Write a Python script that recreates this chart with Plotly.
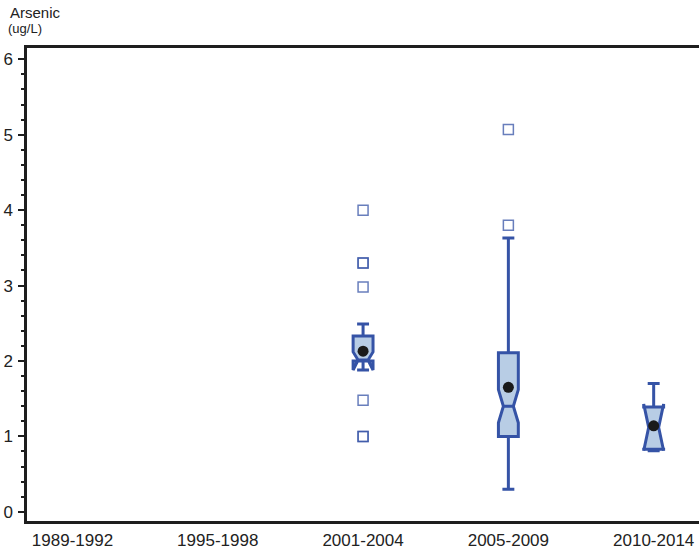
import plotly.graph_objects as go

categories = ["1989-1992", "1995-1998", "2001-2004", "2005-2009", "2010-2014"]

# Box statistics per period with data (periods with boxes)
box_periods = ["2001-2004", "2005-2009", "2010-2014"]
q1_vals = [2.00, 1.00, 0.83]
median_vals = [2.00, 1.40, 1.12]
q3_vals = [2.33, 2.11, 1.39]
lower_fence_vals = [1.92, 0.30, 0.83]
upper_fence_vals = [2.49, 3.63, 1.70]
notch_span_vals = [0.12, 0.22, 0.31]
mean_vals = [2.13, 1.65, 1.14]

# Outliers
outlier_periods = ["2001-2004", "2001-2004", "2001-2004", "2001-2004", "2001-2004",
                   "2001-2004", "2001-2004", "2005-2009", "2005-2009"]
outlier_vals = [4.00, 3.30, 3.30, 2.98, 1.48, 1.00, 1.00, 5.07, 3.80]

y_tick_vals = [0, 1, 2, 3, 4, 5, 6]
y_tick_text = ["0", "1", "2", "3", "4", "5", "6"]

LINE = "#3553a6"
FILL = "#b8cde5"
FONT = "Liberation Sans, Arial, sans-serif"

fig = go.Figure()

for i, p in enumerate(box_periods):
    fig.add_trace(go.Box(
        x=[p],
        q1=[q1_vals[i]], median=[median_vals[i]], q3=[q3_vals[i]],
        lowerfence=[lower_fence_vals[i]], upperfence=[upper_fence_vals[i]],
        notchspan=[notch_span_vals[i]],
        notched=True, notchwidth=0.25,
        width=0.137, whiskerwidth=0.6,
        boxpoints=False,
        fillcolor=FILL,
        line=dict(color=LINE, width=3),
        showlegend=False, hoverinfo="skip",
    ))

fig.add_trace(go.Scatter(
    x=outlier_periods, y=outlier_vals, mode="markers",
    marker=dict(symbol="square-open", size=10, color="rgba(53,83,166,0.75)",
                line=dict(width=1.5)),
    showlegend=False, hoverinfo="skip",
))

fig.add_trace(go.Scatter(
    x=box_periods, y=mean_vals, mode="markers",
    marker=dict(symbol="circle", size=11, color="#1a1a1a"),
    showlegend=False, hoverinfo="skip",
))

fig.update_layout(
    width=699, height=553,
    margin=dict(l=27, r=0, t=48, b=31.5, autoexpand=False),
    paper_bgcolor="white", plot_bgcolor="white",
    font=dict(family=FONT, color="#222222", size=16),
    xaxis=dict(
        type="category", categoryorder="array", categoryarray=categories,
        range=[-0.313, 4.312], automargin=False,
        showgrid=False, zeroline=False,
        showline=True, linecolor="#1e1e1e", linewidth=2.5, mirror=True,
        ticks="", ticklabelstandoff=2,
        tickfont=dict(size=17, family=FONT, color="#222222"),
    ),
    yaxis=dict(
        range=[-0.122, 6.15], automargin=False,
        tickvals=y_tick_vals, ticktext=y_tick_text,
        showgrid=False, zeroline=False,
        showline=True, linecolor="#1e1e1e", linewidth=2.5,
        ticks="outside", ticklen=6, tickwidth=2, tickcolor="#1e1e1e",
        minor=dict(dtick=0.2, tick0=0, ticks="outside", ticklen=3, tickwidth=2,
                   tickcolor="#1e1e1e", showgrid=False),
        tickfont=dict(size=17, family=FONT, color="#222222"),
        ticklabelstandoff=2,
    ),
    annotations=[
        dict(text="Arsenic", xref="paper", yref="paper", x=-0.0283, y=1.076,
             xanchor="left", yanchor="middle", showarrow=False,
             font=dict(size=15, family=FONT, color="#222222")),
        dict(text="(ug/L)", xref="paper", yref="paper", x=-0.031, y=1.042,
             xanchor="left", yanchor="middle", showarrow=False,
             font=dict(size=13, family=FONT, color="#222222")),
    ],
)

fig.write_html("out.html",
               config={"displayModeBar": False},
               post_script="document.body.style.margin='0px';document.body.style.overflow='hidden';")
